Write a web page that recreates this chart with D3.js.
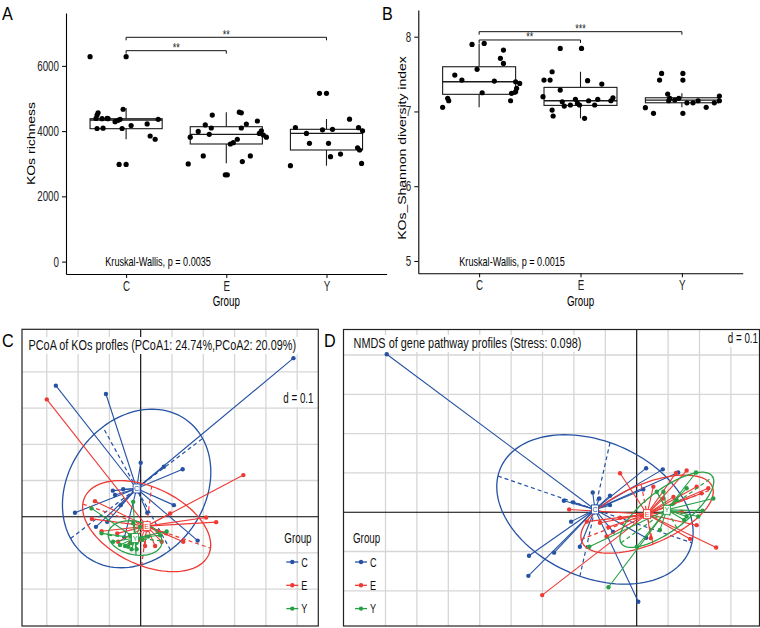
<!DOCTYPE html>
<html><head><meta charset="utf-8">
<script src="https://cdn.jsdelivr.net/npm/d3@7"></script>
<style>
body{margin:0;background:#fff}
svg{display:block}
text{font-family:"Liberation Sans",Arial,Helvetica,sans-serif}
</style>
</head><body>
<svg id="fig" width="760" height="628"></svg>
<script>
// ---------------- DATA ----------------
const groups = ["C","E","Y"];
const groupColors = ["#2552a3","#ee3a35","#27a045"];

// Panel A: KOs richness (value, jitter offset in band steps)
const richnessC = [6280,6280,4490,4560,4390,4380,4390,4380,4290,4330,4360,4670,4080,4090,4080,4170,4220,4360,3850,3750,2980,2980];
const richnessJitC = [-0.36,0,-0.29,-0.28,-0.30,-0.24,-0.19,-0.18,-0.11,-0.08,-0.06,-0.03,-0.29,-0.23,-0.04,0.05,0.21,0.32,0.24,0.29,-0.07,0];
const richnessE = [4490,4190,4095,3990,3815,3900,3240,2995,2660,2660,4580,4560,3605,3645,3750,4095,4218,4310,3930,4010,3880,3815,3240,3065];
const richnessJitE = [-0.14,-0.21,-0.15,-0.28,-0.36,-0.17,-0.23,-0.38,-0.01,0.01,0.13,0.15,0.04,0.07,0.11,0.15,0.20,0.31,0.33,0.35,0.37,0.40,0.24,0.16];
const richnessY = [5158,5158,4110,3930,3625,4040,4055,3625,3215,3295,4365,4105,4010,3490,3420,3010,2940];
const richnessJitY = [-0.07,0,-0.31,-0.20,-0.17,-0.04,0.06,0.02,0.04,0.14,0.23,0.32,0.36,0.31,0.33,0.35,-0.36];
// box stats: [lower whisker, Q1, median, Q3, upper whisker]
const richnessBox = [[3750,4074,4340,4380,4708],[3013,3605,3902,4135,4576],[2940,3421,3933,4055,4371]];
const richnessTicks = [0,2000,4000,6000];
const richnessDomain = [-380,7620];
const richnessBrackets = [{from:"C",to:"E",y:6465,label:"**"},{from:"C",to:"Y",y:6875,label:"**"}];

// Panel B: Shannon diversity
const shannonC = [7.897,7.910,7.821,7.710,7.643,7.563,7.487,7.420,7.406,7.397,7.375,7.309,7.264,7.250,7.242,7.175,7.143,7.143,7.055];
const shannonJitC = [-0.07,0.05,0.24,0.21,0.24,-0.02,-0.24,-0.17,0.15,0.36,0.40,0.37,0.36,0.03,0.32,-0.31,-0.30,0.31,-0.36];
const shannonE = [7.843,7.843,7.531,7.420,7.420,7.411,7.366,7.286,7.197,7.130,7.072,7.086,7.162,7.108,7.086,7.143,7.086,7.162,7.143,7.183,7.019,6.939,6.908];
const shannonJitE = [-0.20,0.01,-0.28,-0.36,-0.30,0.07,0.21,-0.20,-0.37,-0.18,-0.16,-0.10,-0.05,-0.03,-0.01,0.08,0.14,0.17,0.30,0.32,-0.28,-0.27,0.04];
const shannonY = [7.509,7.509,7.420,7.420,7.233,7.175,7.152,7.175,7.143,7.116,7.116,7.143,7.055,7.116,7.206,7.143,7.050,6.975,6.975];
const shannonJitY = [-0.20,0.01,-0.22,0.01,-0.14,-0.12,-0.07,-0.03,-0.13,0.05,0.11,0.16,0.24,0.32,0.37,0.37,-0.36,-0.28,0.01];
const shannonBox = [[7.055,7.229,7.397,7.598,7.91],[6.908,7.081,7.143,7.322,7.531],[7.055,7.116,7.152,7.183,7.242]];
const shannonTicks = [5,6,7,8];
const shannonDomain = [4.835,8.357];
const shannonBrackets = [{from:"C",to:"E",y:7.956,label:"**"},{from:"C",to:"Y",y:8.067,label:"***"}];

// Panel C: PCoA of KOs profiles
const pcoaPtsC = [[0.488,0.438],[-0.271,0.362],[-0.111,0.339],[0,0.149],[0.134,0.131],[0.074,0.138],[-0.089,0.072],[-0.082,0.060],[-0.056,0.076],[-0.210,0.011],[0.106,0.032],[0.021,0.011],[-0.143,-0.028],[0.182,-0.066],[-0.064,0.032],[-0.107,-0.014],[-0.052,-0.057]];
const pcoaPtsE = [[-0.300,0.324],[0.328,0.115],[-0.146,0.043],[-0.156,-0.006],[-0.125,-0.040],[0.209,-0.002],[0.241,-0.015],[0.094,0.009],[0.136,-0.069],[0.081,-0.046],[0.054,-0.041],[0.046,-0.081],[0.014,-0.081],[-0.002,-0.064],[-0.072,-0.069],[-0.075,-0.046],[-0.034,-0.073],[0.021,-0.037],[0.067,-0.069]];
const pcoaPtsY = [[-0.157,0.023],[-0.125,-0.046],[-0.024,-0.018],[-0.050,-0.081],[-0.040,-0.083],[-0.029,-0.073],[-0.013,-0.072],[0.006,-0.064],[0.024,-0.055],[0.062,-0.051],[0.083,-0.041],[-0.088,-0.069],[-0.066,-0.078],[-0.034,-0.051],[-0.002,-0.028],[-0.024,0.041],[-0.029,-0.090],[-0.013,-0.090]];
const pcoaCentroids = [[-0.013,0.078],[0.019,-0.026],[-0.018,-0.059]];
// ellipse conjugate semi-axes [a1, a2]
const pcoaEllipses = [[[0.211,0.138],[-0.108,0.170]],[[0.204,-0.061],[0.016,0.110]],[[0.086,-0.008],[-0.003,0.047]]];
const pcoaXDomain = [-0.3792,0.5674];
const pcoaYDomain = [-0.3019,0.5177];

// Panel D: NMDS of gene pathway profiles
const nmdsPtsC = [[-0.796,0.402],[-0.232,0.029],[-0.202,0.025],[-0.140,0.050],[-0.119,0.035],[-0.085,0.042],[0.030,0.112],[0.083,0.109],[0.132,0.101],[-0.209,-0.024],[-0.181,-0.088],[-0.263,-0.103],[-0.343,-0.111],[-0.345,-0.162],[0.005,-0.228],[-0.075,-0.050],[0.030,-0.065],[0.021,0.058],[-0.085,0.018]];
const nmdsPtsE = [[-0.053,0.099],[0.159,0.106],[-0.215,0.007],[-0.301,-0.211],[0.253,-0.090],[0.045,-0.066],[0.170,-0.068],[0.191,-0.033],[0.207,0.048],[0.228,0.061],[0.191,0.065],[0.117,0.039],[0.085,0.035],[-0.159,-0.024],[-0.117,-0.027],[-0.096,-0.062],[-0.053,-0.014],[0.143,0.001],[0.053,0.065],[-0.090,-0.038],[0.125,0.100]];
const nmdsPtsY = [[-0.090,-0.191],[-0.151,-0.088],[0.189,0.101],[0.244,0.035],[0.210,0.004],[0.196,-0.011],[0.159,-0.011],[0.074,-0.045],[0.064,0.052],[0.085,0.052],[0.159,0.061],[0.000,-0.088],[0.127,0.031],[0.151,-0.020]];
const nmdsCentroids = [[-0.133,0.007],[0.033,-0.005],[0.096,0.006]];
const nmdsEllipses = [[[0.309,-0.085],[0.048,0.170]],[[0.210,0.064],[-0.019,0.076]],[[0.146,0.084],[-0.032,0.046]]];
const nmdsXDomain = [-0.9338,0.3911];
const nmdsYDomain = [-0.2896,0.4649];
const gridStep = 0.1;

// ---------------- DRAWING ----------------
const svg = d3.select("#fig");
svg.append("rect").attr("width",760).attr("height",628).attr("fill","#fff");
const SX = 0.7;
function label(g, x, y, s, o = {}) {
  return g.append("text")
    .attr("transform", `translate(${x},${y}) scale(${o.sx ?? SX},1)`)
    .attr("text-anchor", o.anchor || "start")
    .attr("font-size", o.size || 12)
    .attr("fill", o.fill || "#000")
    .text(s);
}

function boxPanel(p) {
  const g = svg.append("g");
  const x = d3.scalePoint().domain(groups).range([p.x0, p.x1]).padding(0.6);
  const y = d3.scaleLinear().domain(p.domain).range([p.yBot, p.yTop]);
  const step = x.step();
  const w = step * 0.72;
  groups.forEach((k, i) => {
    const [lo, q1, md, q3, hi] = p.boxes[i];
    const cx = x(k);
    g.append("line").attr("x1",cx).attr("x2",cx).attr("y1",y(lo)).attr("y2",y(q1)).attr("stroke","#1a1a1a").attr("stroke-width",1.1);
    g.append("line").attr("x1",cx).attr("x2",cx).attr("y1",y(q3)).attr("y2",y(hi)).attr("stroke","#1a1a1a").attr("stroke-width",1.1);
    g.append("rect").attr("x",cx-w/2).attr("y",y(q3)).attr("width",w).attr("height",y(q1)-y(q3))
      .attr("fill","#fff").attr("stroke","#1a1a1a").attr("stroke-width",1.1);
    g.append("line").attr("x1",cx-w/2).attr("x2",cx+w/2).attr("y1",y(md)).attr("y2",y(md)).attr("stroke","#1a1a1a").attr("stroke-width",1.3);
  });
  groups.forEach((k, i) => {
    g.selectAll(null).data(p.values[i]).enter().append("circle")
      .attr("cx", (d, j) => x(k) + p.jitters[i][j] * step)
      .attr("cy", d => y(d)).attr("r", 2.6).attr("fill", "#000");
  });
  p.brackets.forEach(b => {
    const yy = y(b.y), xa = x(b.from), xb = x(b.to);
    g.append("path").attr("d", `M${xa},${yy+3}V${yy}H${xb}V${yy+3}`).attr("fill","none").attr("stroke","#111").attr("stroke-width",1);
    label(g, (xa+xb)/2, yy + 1.5, b.label, {anchor:"middle", size:13, fill:"#222"});
  });
  const ya = g.append("g").attr("transform",`translate(${p.x0},0)`)
    .call(d3.axisLeft(y).tickValues(p.ticks).tickFormat(d3.format("d")).tickSize(4).tickSizeOuter(0).tickPadding(3));
  const xa = g.append("g").attr("transform",`translate(0,${p.yBot})`)
    .call(d3.axisBottom(x).tickSize(4).tickSizeOuter(0).tickPadding(3));
  [ya, xa].forEach(a => {
    a.attr("font-size",null).attr("font-family",null);
    a.select(".domain").attr("stroke","#000").attr("stroke-width",1.1);
    a.selectAll(".tick line").attr("stroke","#000").attr("stroke-width",1);
    a.selectAll(".tick text").attr("font-size",14).attr("fill","#222");
  });
  ya.selectAll(".tick text").attr("transform",`scale(${SX},1)`).attr("x",-10);
  xa.selectAll(".tick text").attr("transform",`scale(${SX},1)`);
  g.append("text").attr("transform",`translate(${p.ylabX},${p.ylabY}) scale(0.82,1) rotate(-90)`)
    .attr("text-anchor","middle").attr("font-size",14).attr("fill","#000").text(p.ylab);
  label(g, x("E"), 306, "Group", {anchor:"middle", size:14});
  label(g, p.kwX, 266, p.kw, {size:13});
  label(g, p.tagX, 20, p.tag, {size:19, sx:0.85});
}

boxPanel({x0:66, x1:386.6, yTop:13, yBot:274, domain:richnessDomain, ticks:richnessTicks,
  values:[richnessC,richnessE,richnessY], jitters:[richnessJitC,richnessJitE,richnessJitY],
  boxes:richnessBox, brackets:richnessBrackets, ylab:"KOs richness", ylabX:35, ylabY:143.5,
  kw:"Kruskal-Wallis, p = 0.0035", kwX:105.3, tag:"A", tagX:2});
boxPanel({x0:418.3, x1:742.7, yTop:10, yBot:273.3, domain:shannonDomain, ticks:shannonTicks,
  values:[shannonC,shannonE,shannonY], jitters:[shannonJitC,shannonJitE,shannonJitY],
  boxes:shannonBox, brackets:shannonBrackets, ylab:"KOs_Shannon diversity index", ylabX:406, ylabY:148,
  kw:"Kruskal-Wallis, p = 0.0015", kwX:459.3, tag:"B", tagX:382});

function ordPanel(p) {
  const g = svg.append("g");
  const x = d3.scaleLinear().domain(p.xDom).range([p.fx0, p.fx1]);
  const y = d3.scaleLinear().domain(p.yDom).range([p.fy1, p.fy0]);
  const id = "clip" + p.tag;
  svg.append("defs").append("clipPath").attr("id", id).append("rect")
    .attr("x",p.fx0).attr("y",p.fy0).attr("width",p.fx1-p.fx0).attr("height",p.fy1-p.fy0);
  const c = g.append("g").attr("clip-path", `url(#${id})`);
  const xs = d3.range(Math.ceil(p.xDom[0]/gridStep), Math.floor(p.xDom[1]/gridStep)+1).map(k => k*gridStep)
    .filter(v => x(v) - p.fx0 > 12 && p.fx1 - x(v) > 12 && Math.abs(v) > 1e-9);
  const ys = d3.range(Math.ceil(p.yDom[0]/gridStep), Math.floor(p.yDom[1]/gridStep)+1).map(k => k*gridStep)
    .filter(v => y(v) - p.fy0 > 12 && p.fy1 - y(v) > 12 && Math.abs(v) > 1e-9);
  xs.forEach(v => c.append("line").attr("x1",x(v)).attr("x2",x(v)).attr("y1",p.fy0).attr("y2",p.fy1)
    .attr("stroke","#d6d6d6").attr("stroke-width",1.3));
  ys.forEach(v => c.append("line").attr("x1",p.fx0).attr("x2",p.fx1).attr("y1",y(v)).attr("y2",y(v))
    .attr("stroke","#d6d6d6").attr("stroke-width",1.3));
  c.append("line").attr("x1",x(0)).attr("x2",x(0)).attr("y1",p.fy0).attr("y2",p.fy1).attr("stroke","#000").attr("stroke-width",1.1);
  c.append("line").attr("x1",p.fx0).attr("x2",p.fx1).attr("y1",y(0)).attr("y2",y(0)).attr("stroke","#000").attr("stroke-width",1.1);

  const line = d3.line().x(d => x(d[0])).y(d => y(d[1]));
  groups.forEach((k, i) => {
    const col = groupColors[i], cen = p.cents[i], [a1, a2] = p.ells[i];
    const ring = d3.range(0, 361, 3).map(a => {
      const t = a * Math.PI / 180;
      return [cen[0] + Math.cos(t)*a1[0] + Math.sin(t)*a2[0], cen[1] + Math.cos(t)*a1[1] + Math.sin(t)*a2[1]];
    });
    c.append("path").attr("d", line(ring)).attr("fill","none").attr("stroke",col).attr("stroke-width",1.3);
    [a1, a2].forEach(a => c.append("path").attr("d", line([[cen[0]-a[0],cen[1]-a[1]],[cen[0]+a[0],cen[1]+a[1]]]))
      .attr("stroke",col).attr("stroke-width",1.2).attr("stroke-dasharray","4,3").attr("fill","none"));
    p.pts[i].forEach(pt => c.append("path").attr("d", line([cen, pt])).attr("stroke",col).attr("stroke-width",1.1).attr("fill","none"));
    c.selectAll(null).data(p.pts[i]).enter().append("circle")
      .attr("cx", d => x(d[0])).attr("cy", d => y(d[1])).attr("r", 2.2).attr("fill", col);
  });
  groups.forEach((k, i) => {
    const col = groupColors[i], cen = p.cents[i];
    c.append("rect").attr("x", x(cen[0])-3.5).attr("y", y(cen[1])-4.5).attr("width",7).attr("height",9)
      .attr("fill","#fff").attr("stroke",col).attr("stroke-width",0.9);
    c.append("text").attr("x", x(cen[0])).attr("y", y(cen[1])+2.6).attr("text-anchor","middle")
      .attr("font-size",7).attr("fill",col).text(k);
  });
  c.append("rect").attr("x",p.titleX-3).attr("y",p.titleY-13).attr("width",p.titleLen+6).attr("height",17).attr("fill","#fff");
  const tt = c.append("text").attr("font-size",14).attr("fill","#111").text(p.title);
  const natural = tt.node().getComputedTextLength() || p.titleLen;
  tt.attr("transform", `translate(${p.titleX},${p.titleY}) scale(${p.titleLen / natural},1)`);
  c.append("rect").attr("x",p.dX-33).attr("y",p.dY-13).attr("width",36).attr("height",17).attr("fill","#fff");
  label(c, p.dX, p.dY, "d = 0.1", {anchor:"end", size:14, fill:"#111"});
  label(g, p.legX, p.legY, "Group", {size:14, fill:"#111"});
  groups.forEach((k, i) => {
    const ly = p.legY + 19 + i * 23.3;
    g.append("line").attr("x1",p.legX+2).attr("x2",p.legX+14).attr("y1",ly).attr("y2",ly).attr("stroke",groupColors[i]).attr("stroke-width",1.3);
    g.append("circle").attr("cx",p.legX+8).attr("cy",ly).attr("r",2.2).attr("fill",groupColors[i]);
    label(g, p.legX+17, ly+4.5, k, {size:13, fill:"#111"});
  });
  g.append("rect").attr("x",p.fx0).attr("y",p.fy0).attr("width",p.fx1-p.fx0).attr("height",p.fy1-p.fy0)
    .attr("fill","none").attr("stroke","#222").attr("stroke-width",1.2);
  label(g, p.tagX, 347, p.tag, {size:19, sx:0.85});
}

ordPanel({tag:"C", tagX:2, fx0:22, fx1:318.3, fy0:329.3, fy1:626, xDom:pcoaXDomain, yDom:pcoaYDomain,
  pts:[pcoaPtsC,pcoaPtsE,pcoaPtsY], cents:pcoaCentroids, ells:pcoaEllipses,
  title:"PCoA of KOs profles (PCoA1: 24.74%,PCoA2: 20.09%)", titleX:28.5, titleY:350, titleLen:268,
  dX:313.5, dY:403, legX:284.3, legY:543});
ordPanel({tag:"D", tagX:324, fx0:343.5, fx1:759.5, fy0:329.5, fy1:626, xDom:nmdsXDomain, yDom:nmdsYDomain,
  pts:[nmdsPtsC,nmdsPtsE,nmdsPtsY], cents:nmdsCentroids, ells:nmdsEllipses,
  title:"NMDS of gene pathway profiles (Stress: 0.098)", titleX:353.5, titleY:348, titleLen:228,
  dX:758, dY:343, legX:353, legY:543});
</script>
</body></html>
